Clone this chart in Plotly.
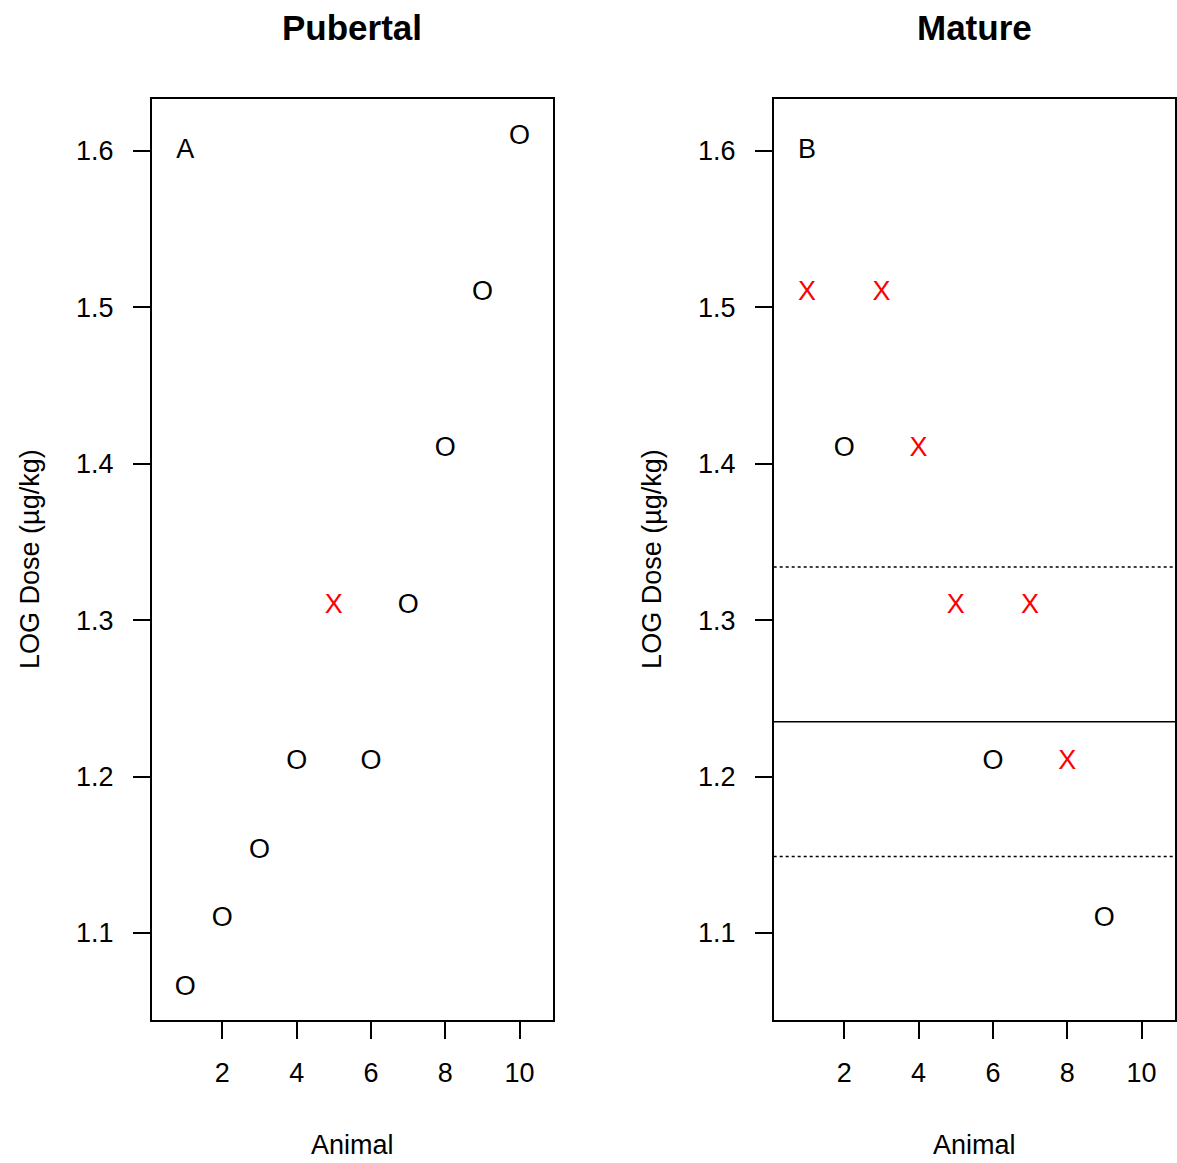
import plotly.graph_objects as go

# Panel A: Pubertal
pub_animal = [1, 2, 3, 4, 5, 6, 7, 8, 9, 10]
pub_dose = [1.065, 1.109, 1.152, 1.209, 1.309, 1.209, 1.309, 1.409, 1.509, 1.609]
pub_resp = ["O", "O", "O", "O", "X", "O", "O", "O", "O", "O"]

# Panel B: Mature
mat_animal = [1, 2, 3, 4, 5, 6, 7, 8, 9]
mat_dose = [1.509, 1.409, 1.509, 1.409, 1.309, 1.209, 1.309, 1.209, 1.109]
mat_resp = ["X", "O", "X", "X", "X", "O", "X", "X", "O"]

# Reference lines (panel B): estimate and limits
mat_est = 1.235
mat_lo = 1.149
mat_hi = 1.334

x_ticks = [2, 4, 6, 8, 10]
y_ticks = [1.1, 1.2, 1.3, 1.4, 1.5, 1.6]
y_tick_text = ["1.1", "1.2", "1.3", "1.4", "1.5", "1.6"]
titles = ["Pubertal", "Mature"]
panel_labels = ["A", "B"]

FONT = "Liberation Sans, Arial, sans-serif"
FS = 27

def col(r):
    return "#FF0000" if r == "X" else "#000000"

fig = go.Figure()
fig.add_trace(go.Scatter(
    x=pub_animal, y=pub_dose, mode="text", text=pub_resp,
    textposition="middle center",
    textfont=dict(family=FONT, size=FS, color=[col(r) for r in pub_resp]),
    xaxis="x", yaxis="y", showlegend=False, hoverinfo="skip"))
fig.add_trace(go.Scatter(
    x=mat_animal, y=mat_dose, mode="text", text=mat_resp,
    textposition="middle center",
    textfont=dict(family=FONT, size=FS, color=[col(r) for r in mat_resp]),
    xaxis="x2", yaxis="y2", showlegend=False, hoverinfo="skip"))
# panel letters
fig.add_trace(go.Scatter(
    x=[1], y=[1.6], mode="text", text=[panel_labels[0]],
    textfont=dict(family=FONT, size=FS, color="black"),
    xaxis="x", yaxis="y", showlegend=False, hoverinfo="skip"))
fig.add_trace(go.Scatter(
    x=[1], y=[1.6], mode="text", text=[panel_labels[1]],
    textfont=dict(family=FONT, size=FS, color="black"),
    xaxis="x2", yaxis="y2", showlegend=False, hoverinfo="skip"))

d1 = [152 / 1177, 554 / 1177]
d2 = [775 / 1177, 1.0]
yd = [1 - 1020 / 1163, 1 - 99 / 1163]

xa = dict(range=[0.1, 10.9], tickvals=x_ticks, ticks="outside", ticklen=17,
          tickwidth=1.5, tickcolor="black", showline=True, linewidth=1.5,
          linecolor="black", mirror=True, showgrid=False, zeroline=False,
          tickfont=dict(family=FONT, size=FS, color="#000000"),
          ticklabelstandoff=11)
ya = dict(range=[1.0444, 1.6332], tickvals=y_ticks, ticktext=y_tick_text,
          ticks="outside", ticklen=17, tickwidth=1.5, tickcolor="black",
          showline=True, linewidth=1.5, linecolor="black", mirror=True,
          showgrid=False, zeroline=False,
          tickfont=dict(family=FONT, size=FS, color="#000000"),
          ticklabelstandoff=14)

fig.update_layout(
    width=1177, height=1163,
    margin=dict(l=0, r=0, t=0, b=0),
    paper_bgcolor="white", plot_bgcolor="white",
    xaxis=dict(xa, domain=d1, anchor="y"),
    yaxis=dict(ya, domain=yd, anchor="x"),
    xaxis2=dict(xa, domain=d2, anchor="y2"),
    yaxis2=dict(ya, domain=yd, anchor="x2"),
    showlegend=False,
)

# reference lines in panel B
fig.add_shape(type="line", xref="x2 domain", yref="y2", x0=0, x1=1,
              y0=mat_est, y1=mat_est, line=dict(color="black", width=1.5))
for v in [mat_lo, mat_hi]:
    fig.add_shape(type="line", xref="x2 domain", yref="y2", x0=0, x1=1,
                  y0=v, y1=v, line=dict(color="black", width=1.5, dash="dot"))

ann = []
for dom, t in zip([d1, d2], titles):
    cx = (dom[0] + dom[1]) / 2
    ann.append(dict(text="<b>%s</b>" % t, x=cx, y=1 - 28 / 1163, xref="paper",
                    yref="paper", showarrow=False, xanchor="center", yanchor="middle",
                    font=dict(family=FONT, size=35, color="black")))
    ann.append(dict(text="Animal", x=cx, y=1 - 1145 / 1163, xref="paper",
                    yref="paper", showarrow=False, xanchor="center", yanchor="middle",
                    font=dict(family=FONT, size=FS, color="black")))
for xp in [30, 653]:
    ann.append(dict(text="LOG Dose (µg/kg)", x=xp / 1177, y=1 - 559 / 1163,
                    xref="paper", yref="paper", showarrow=False, textangle=-90,
                    xanchor="center", yanchor="middle",
                    font=dict(family=FONT, size=FS, color="black")))
fig.update_layout(annotations=ann)

fig.write_html("out.html", config={"displayModeBar": False},
               post_script="document.body.style.margin='0';document.body.style.overflow='hidden';")
